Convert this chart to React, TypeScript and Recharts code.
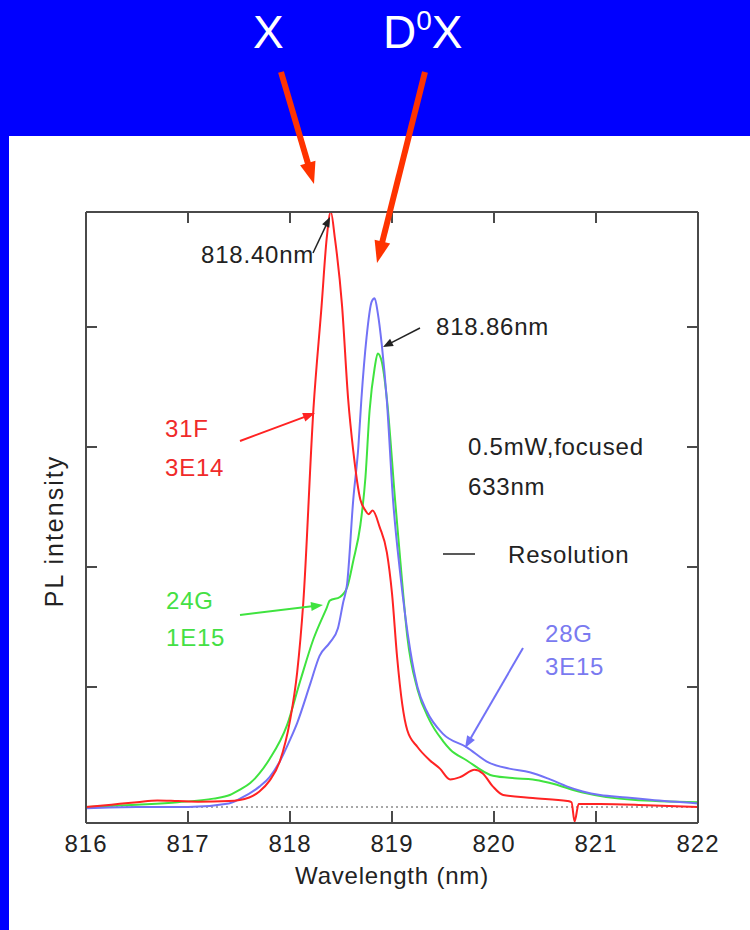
import React from 'react';
import { LineChart, Line, XAxis, YAxis, ReferenceLine } from 'recharts';

const wavelengthTicks = [816, 817, 818, 819, 820, 821, 822];
const intensityTicks = [1, 2, 3, 4];

// 31F / 3E14 (red)
const wl31F = [816.0, 816.25, 816.5, 816.7, 816.9, 817.1, 817.4, 817.6, 817.7, 817.8, 817.9, 818.0, 818.07, 818.13, 818.23, 818.31, 818.36, 818.4, 818.44, 818.51, 818.57, 818.62, 818.69, 818.74, 818.77, 818.81, 818.88, 818.95, 819.0, 819.05, 819.1, 819.15, 819.25, 819.37, 819.47, 819.57, 819.67, 819.81, 819.89, 819.99, 820.09, 820.38, 820.72, 820.76, 820.79, 820.83, 821.04, 821.5, 822.0];
const pl31F = [0.0, 0.02, 0.04, 0.055, 0.05, 0.045, 0.05, 0.08, 0.13, 0.22, 0.38, 0.72, 1.12, 1.7, 3.32, 4.18, 4.74, 4.96, 4.74, 4.18, 3.4, 2.97, 2.56, 2.47, 2.44, 2.47, 2.33, 2.12, 1.78, 1.25, 0.86, 0.64, 0.5, 0.39, 0.32, 0.23, 0.25, 0.31, 0.28, 0.17, 0.1, 0.075, 0.05, 0.04, -0.12, 0.025, 0.025, 0.015, 0.0];

// 24G / 1E15 (green)
const wl24G = [816.0, 816.5, 816.9, 817.25, 817.41, 817.51, 817.61, 817.7, 817.8, 817.97, 818.1, 818.23, 818.36, 818.39, 818.49, 818.56, 818.62, 818.69, 818.74, 818.78, 818.83, 818.86, 818.9, 818.95, 819.03, 819.1, 819.15, 819.25, 819.37, 819.5, 819.57, 819.73, 819.99, 820.2, 820.38, 820.55, 820.87, 821.36, 822.0];
const pl24G = [0.0, 0.02, 0.04, 0.07, 0.1, 0.145, 0.2, 0.28, 0.4, 0.68, 1.05, 1.4, 1.66, 1.72, 1.75, 1.83, 2.05, 2.35, 2.75, 3.3, 3.66, 3.78, 3.71, 3.4, 2.56, 1.87, 1.42, 0.98, 0.72, 0.55, 0.48, 0.39, 0.26, 0.24, 0.23, 0.2, 0.12, 0.06, 0.04];

// 28G / 3E15 (blue)
const wl28G = [816.0, 816.5, 817.0, 817.4, 817.51, 817.7, 817.8, 817.9, 818.0, 818.07, 818.2, 818.29, 818.39, 818.47, 818.52, 818.56, 818.62, 818.67, 818.7, 818.75, 818.8, 818.83, 818.86, 818.9, 818.95, 819.01, 819.08, 819.18, 819.25, 819.34, 819.5, 819.73, 819.95, 820.15, 820.35, 820.55, 820.72, 820.87, 821.04, 821.3, 821.53, 822.0];
const pl28G = [-0.01, 0.0, 0.0, 0.03, 0.07, 0.17, 0.25, 0.38, 0.56, 0.7, 1.03, 1.26, 1.37, 1.49, 1.7, 1.86, 2.56, 3.0, 3.4, 3.91, 4.21, 4.24, 4.12, 3.85, 3.38, 2.56, 1.95, 1.3, 1.0, 0.8, 0.61, 0.5, 0.37, 0.32, 0.29, 0.23, 0.17, 0.13, 0.1, 0.08, 0.06, 0.03];

const toPoints = (wl: number[], pl: number[]) => wl.map((w, i) => ({ wl: w, pl: pl[i] }));

const series = [
  { name: '24G', color: '#3fe33f', points: toPoints(wl24G, pl24G) },
  { name: '28G', color: '#7272f6', points: toPoints(wl28G, pl28G) },
  { name: '31F', color: '#ff2323', points: toPoints(wl31F, pl31F) },
];

const FONT = '"Liberation Sans", Arial, Helvetica, sans-serif';
const FRAME = '#4a4a4a';
const TICK_LEN = 11;

// inward tick marks (plus labels on the bottom axis)
const BottomTick = ({ x, y, payload }: any) => (
  <g>
    <line x1={x} y1={y} x2={x} y2={y - 12} stroke={FRAME} strokeWidth={2} />
    <text x={x} y={y + 12} dy="0.71em" textAnchor="middle" fill="#222" fontSize={24} letterSpacing={1} fontFamily={FONT}>
      {payload.value}
    </text>
  </g>
);
const TopTick = ({ x, y }: any) => <line x1={x} y1={y} x2={x} y2={y + TICK_LEN} stroke={FRAME} strokeWidth={2} />;
const LeftTick = ({ x, y }: any) => <line x1={x} y1={y} x2={x + TICK_LEN} y2={y} stroke={FRAME} strokeWidth={2} />;
const RightTick = ({ x, y }: any) => <line x1={x} y1={y} x2={x - TICK_LEN} y2={y} stroke={FRAME} strokeWidth={2} />;

function Arrow({ x1, y1, x2, y2, color, width, head, half }: any) {
  const dx = x2 - x1;
  const dy = y2 - y1;
  const len = Math.sqrt(dx * dx + dy * dy);
  const ux = dx / len;
  const uy = dy / len;
  const bx = x2 - ux * head;
  const by = y2 - uy * head;
  const pts = `${x2},${y2} ${bx - uy * half},${by + ux * half} ${bx + uy * half},${by - ux * half}`;
  return (
    <g>
      <line x1={x1} y1={y1} x2={bx + ux} y2={by + uy} stroke={color} strokeWidth={width} />
      <polygon points={pts} fill={color} />
    </g>
  );
}

export default function App() {
  const txt = { fontFamily: FONT, fontSize: 24, letterSpacing: 0.8 };
  return (
    <div style={{ position: 'absolute', left: 0, top: 0, width: 750, height: 930, background: '#fff', overflow: 'hidden' }}>
      <div style={{ position: 'absolute', left: 0, top: 0, width: 750, height: 136, background: '#0000ff' }} />
      <div style={{ position: 'absolute', left: 0, top: 0, width: 9, height: 930, background: '#0000ff' }} />

      <div style={{ position: 'absolute', left: 0, top: 0 }}>
        <LineChart width={750} height={930} margin={{ top: 211, right: 51, bottom: 67, left: 85 }}>
          <XAxis
            type="number"
            dataKey="wl"
            domain={[816, 822]}
            ticks={wavelengthTicks}
            interval={0}
            allowDataOverflow
            height={40}
            stroke={FRAME}
            strokeWidth={2}
            tickSize={0}
            tickMargin={0}
            tickLine={false}
            tick={<BottomTick />}
          />
          <XAxis
            xAxisId="top"
            orientation="top"
            type="number"
            dataKey="wl"
            domain={[816, 822]}
            ticks={wavelengthTicks}
            interval={0}
            allowDataOverflow
            height={1}
            stroke={FRAME}
            strokeWidth={2}
            tickSize={0}
            tickMargin={0}
            tickLine={false}
            tick={<TopTick />}
          />
          <YAxis
            type="number"
            domain={[-0.133, 4.958]}
            ticks={intensityTicks}
            interval={0}
            allowDataOverflow
            width={1}
            stroke={FRAME}
            strokeWidth={2}
            tickSize={0}
            tickMargin={0}
            tickLine={false}
            tick={<LeftTick />}
          />
          <YAxis
            yAxisId="right"
            orientation="right"
            type="number"
            domain={[-0.133, 4.958]}
            ticks={intensityTicks}
            interval={0}
            allowDataOverflow
            width={1}
            stroke={FRAME}
            strokeWidth={2}
            tickSize={0}
            tickMargin={0}
            tickLine={false}
            tick={<RightTick />}
          />
          <ReferenceLine y={0} stroke="#8a8a8a" strokeDasharray="2 3" strokeWidth={1.5} />
          {series.map((s) => (
            <Line
              key={s.name}
              data={s.points}
              dataKey="pl"
              type="monotone"
              stroke={s.color}
              strokeWidth={2}
              dot={false}
              isAnimationActive={false}
            />
          ))}
        </LineChart>
      </div>

      <svg width={750} height={930} style={{ position: 'absolute', left: 0, top: 0, pointerEvents: 'none' }}>
        {/* banner labels */}
        <text x={253} y={48} fill="#fff" fontFamily={FONT} fontSize={46}>X</text>
        <text x={383} y={48} fill="#fff" fontFamily={FONT} fontSize={46}>
          D<tspan fontSize={28} dy={-18}>0</tspan><tspan dy={18}>X</tspan>
        </text>
        <Arrow x1={281} y1={72} x2={314} y2={184} color="#ff3300" width={6} head={22} half={8} />
        <Arrow x1={425} y1={72} x2={377} y2={263} color="#ff3300" width={6} head={22} half={8} />

        {/* peak annotations */}
        <text x={201} y={263} fill="#222" {...txt}>818.40nm</text>
        <Arrow x1={313} y1={253} x2={330} y2={217} color="#222" width={1.5} head={10} half={4} />
        <text x={436} y={335} fill="#222" {...txt}>818.86nm</text>
        <Arrow x1={420} y1={328} x2={383} y2={347} color="#222" width={1.5} head={10} half={4} />

        <text x={468} y={455} fill="#222" {...txt}>0.5mW,focused</text>
        <text x={468} y={495} fill="#222" {...txt}>633nm</text>
        <line x1={443} y1={554} x2={475} y2={554} stroke="#222" strokeWidth={1.5} />
        <text x={508} y={563} fill="#222" {...txt}>Resolution</text>

        {/* sample labels */}
        <text x={165} y={437} fill="#f02a2a" {...txt}>31F</text>
        <text x={165} y={476} fill="#f02a2a" {...txt}>3E14</text>
        <Arrow x1={240} y1={441} x2={315} y2={413} color="#ff2323" width={2} head={12} half={4.5} />

        <text x={166} y={609} fill="#44e044" {...txt}>24G</text>
        <text x={166} y={646} fill="#44e044" {...txt}>1E15</text>
        <Arrow x1={240} y1={615} x2={323} y2={605} color="#3fe33f" width={2} head={12} half={4.5} />

        <text x={545} y={642} fill="#7a7af0" {...txt}>28G</text>
        <text x={545} y={675} fill="#7a7af0" {...txt}>3E15</text>
        <Arrow x1={523} y1={648} x2={465} y2={748} color="#7272f6" width={2} head={12} half={4.5} />

        {/* axis titles */}
        <text x={392} y={884} fill="#222" textAnchor="middle" {...txt}>Wavelength (nm)</text>
        <text x={63} y={531} fill="#222" textAnchor="middle" transform="rotate(-90 63 531)" fontFamily={FONT} fontSize={25} letterSpacing={2}>PL intensity</text>
      </svg>
    </div>
  );
}
